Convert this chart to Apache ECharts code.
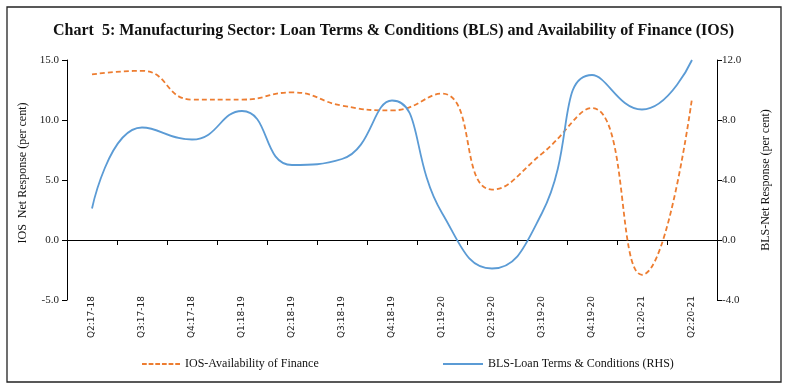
<!DOCTYPE html>
<html>
<head>
<meta charset="utf-8">
<script src="https://cdn.jsdelivr.net/npm/echarts@6/dist/echarts.min.js"></script>
<style>html,body{margin:0;padding:0;background:#fff;}#c{width:787px;height:391px;}</style>
</head>
<body>
<div id="c"></div>
<script>
const categories = ['Q2:17-18','Q3:17-18','Q4:17-18','Q1:18-19','Q2:18-19','Q3:18-19','Q4:18-19','Q1:19-20','Q2:19-20','Q3:19-20','Q4:19-20','Q1:20-21','Q2:20-21'];
const iosValues = [13.8, 14.1, 11.7, 11.7, 12.3, 11.2, 10.8, 12.2, 4.2, 7.2, 11.0, -2.9, 11.8];
const blsValues = [2.1, 7.5, 6.7, 8.6, 5.0, 5.4, 9.3, 1.8, -1.9, 1.8, 11.0, 8.7, 12.0];
const leftTicks = {min: -5, max: 15, interval: 5};
const rightTicks = {min: -4, max: 12, interval: 4};

const serif = 'Liberation Serif';
const dashIcon = 'path://M0,0h5v2h-5z M7,0h5v2h-5z M14,0h5v2h-5z M21,0h5v2h-5z M28,0h5v2h-5z M35,0h5v2h-5z';
const solidIcon = 'path://M0,0h40v2h-40z';
const chart = echarts.init(document.getElementById('c'), null, {renderer: 'canvas'});
chart.setOption({
  backgroundColor: '#fff',
  animation: false,
  title: {
    text: 'Chart  5: Manufacturing Sector: Loan Terms & Conditions (BLS) and Availability of Finance (IOS)',
    left: 'center', top: 18,
    textStyle: {fontFamily: serif, fontSize: 16, fontWeight: 'bold', color: '#111'}
  },
  graphic: [{
    type: 'rect', shape: {x: 7, y: 7, width: 774, height: 375},
    style: {fill: 'none', stroke: '#222', lineWidth: 1.3}, silent: true
  }],
  legend: [
    {data: [{name: 'IOS-Availability of Finance', icon: dashIcon}], left: 137, top: 353,
     itemWidth: 38, itemHeight: 2, symbolKeepAspect: false,
     textStyle: {fontFamily: serif, fontSize: 12, color: '#111'}},
    {data: [{name: 'BLS-Loan Terms & Conditions (RHS)', icon: solidIcon}], left: 438, top: 353,
     itemWidth: 40, itemHeight: 2, symbolKeepAspect: false,
     textStyle: {fontFamily: serif, fontSize: 12, color: '#111'}}
  ],
  grid: {left: 67, right: 70, top: 60, bottom: 91, containLabel: false},
  xAxis: [
    {type: 'category', data: categories, position: 'bottom', boundaryGap: true,
     axisLine: {show: false, onZero: false}, axisTick: {show: false},
     offset: -4,
     axisLabel: {rotate: 90, margin: 0, fontFamily: 'DejaVu Sans', fontSize: 9, color: '#222', interval: 0}},
    {type: 'category', data: categories, position: 'bottom', boundaryGap: true,
     axisLine: {show: true, onZero: true, onZeroAxisIndex: 0, lineStyle: {color: '#000', width: 1}},
     axisTick: {show: true, length: 5, interval: 0, lineStyle: {color: '#000'}},
     axisLabel: {show: false}}
  ],
  yAxis: [
    {type: 'value', position: 'left', min: leftTicks.min, max: leftTicks.max, interval: leftTicks.interval,
     name: 'IOS  Net Response (per cent)', nameLocation: 'middle', nameGap: 35, nameRotate: 90,
     nameTextStyle: {fontFamily: serif, fontSize: 12, color: '#111', padding: [0, 0, 0, 14]},
     axisLine: {show: true, lineStyle: {color: '#000'}}, axisTick: {show: true, length: 5, lineStyle: {color: '#000'}},
     splitLine: {show: false},
     axisLabel: {margin: 8, fontFamily: serif, fontSize: 11, color: '#222', formatter: v => v.toFixed(1)}},
    {type: 'value', position: 'right', min: rightTicks.min, max: rightTicks.max, interval: rightTicks.interval,
     name: 'BLS-Net Response (per cent)', nameLocation: 'middle', nameGap: 43, nameRotate: 90,
     nameTextStyle: {fontFamily: serif, fontSize: 12, color: '#111'},
     axisLine: {show: true, lineStyle: {color: '#000'}}, axisTick: {show: true, length: 5, lineStyle: {color: '#000'}},
     splitLine: {show: false},
     axisLabel: {margin: 5, fontFamily: serif, fontSize: 11, color: '#222', formatter: v => v.toFixed(1)}}
  ],
  series: [
    {name: 'IOS-Availability of Finance', type: 'line', xAxisIndex: 0, yAxisIndex: 0, data: iosValues,
     smooth: 0.5, symbol: 'none', showSymbol: false,
     lineStyle: {color: '#ED7D31', width: 1.8, type: [5, 3]}, itemStyle: {color: '#ED7D31'}},
    {name: 'BLS-Loan Terms & Conditions (RHS)', type: 'line', xAxisIndex: 0, yAxisIndex: 1, data: blsValues,
     smooth: 0.5, symbol: 'none', showSymbol: false,
     lineStyle: {color: '#5B9BD5', width: 1.8}, itemStyle: {color: '#5B9BD5'}}
  ]
});
</script>
</body>
</html>
